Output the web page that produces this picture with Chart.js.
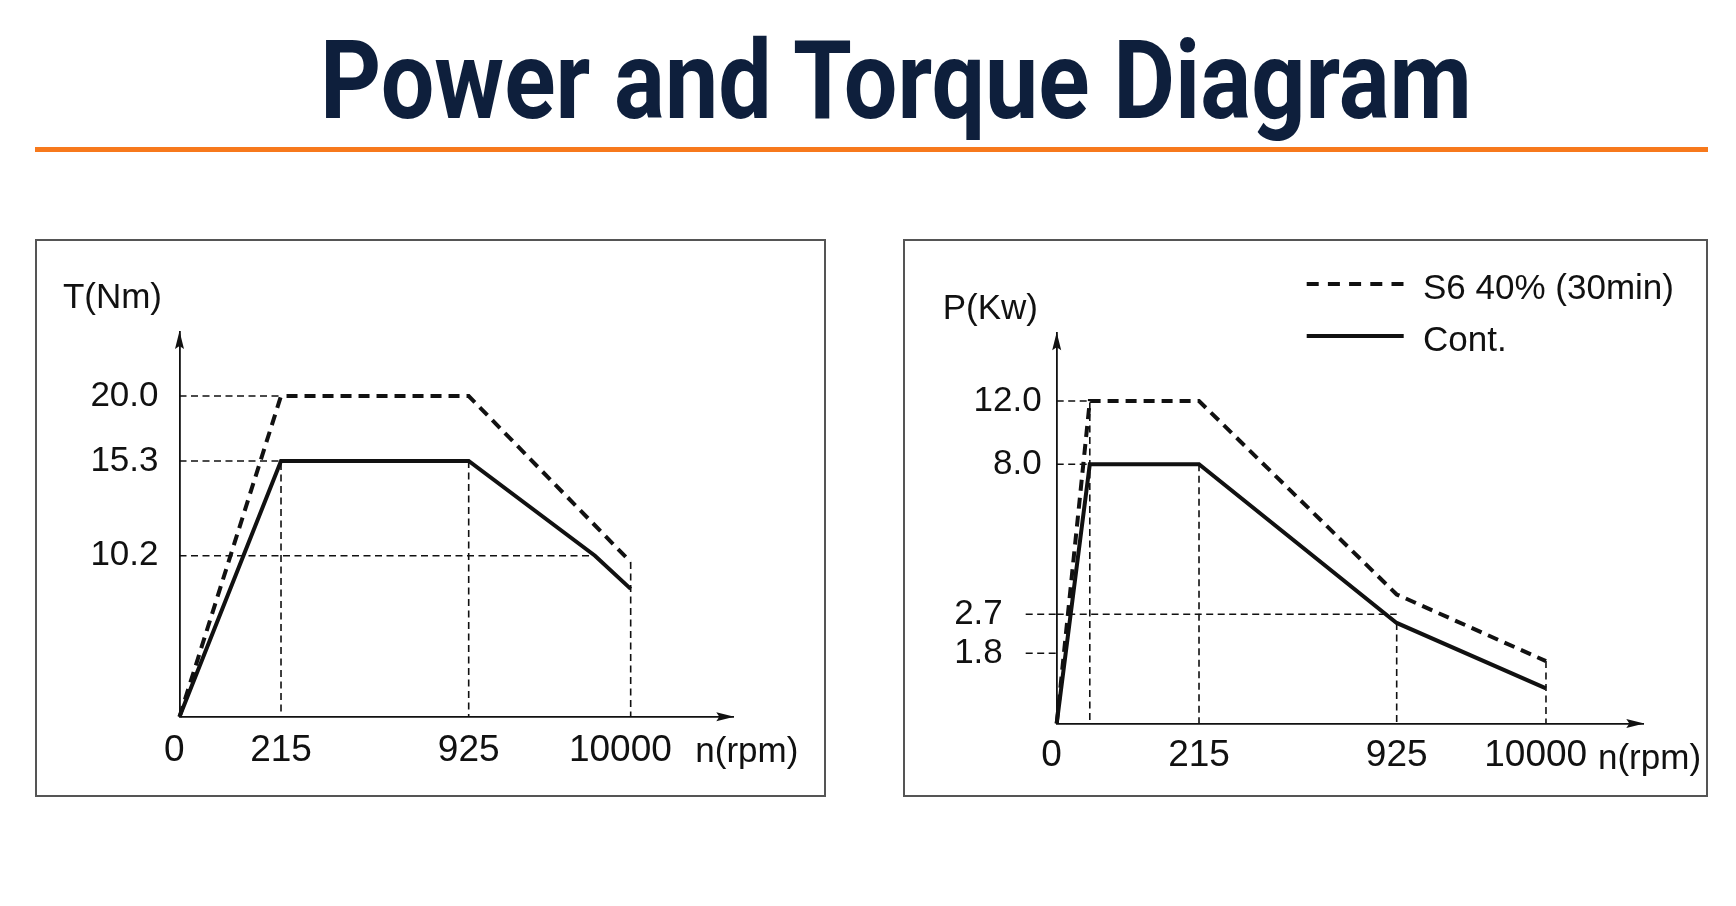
<!DOCTYPE html>
<html>
<head>
<meta charset="utf-8">
<title>Power and Torque Diagram</title>
<script src="https://cdn.jsdelivr.net/npm/chart.js@4.4.1/dist/chart.umd.min.js"></script>
<style>
  body { margin: 0; width: 1736px; height: 906px; background: #fff; position: relative; overflow: hidden; }
  #title { position: absolute; top: 26px; left: 0; white-space: nowrap; font: 700 110px/110px Roboto, "Liberation Sans", sans-serif; color: #0e1f3c; transform-origin: 0 0; }
  #rule { position: absolute; left: 35px; top: 147px; width: 1673px; height: 5px; background: #f7791c; }
  .panel { position: absolute; top: 239px; height: 558px; border: 2px solid #555; box-sizing: border-box; }
  #torquePanel { left: 35px; width: 791px; }
  #powerPanel { left: 903px; width: 805px; }
  .panel div { position: relative; width: 100%; height: 100%; }
</style>
</head>
<body>
<div id="title">Power and Torque Diagram</div>
<div id="rule"></div>
<div class="panel" id="torquePanel"><div><canvas id="torque-graph"></canvas></div></div>
<div class="panel" id="powerPanel"><div><canvas id="power-graph"></canvas></div></div>

<script>
// ---- data ----
var seriesLabels = ['S6 40% (30min)', 'Cont.'];
var speedTicks = [0, 215, 925, 10000];

var torqueTicks = [10.2, 15.3, 20.0];
var torqueS6Rpm = [0, 215, 925, 10000];
var torqueS6 = [0, 20.0, 20.0, 9.8];
var torqueContRpm = [0, 215, 925, 8000, 10000];
var torqueCont = [0, 15.3, 15.3, 10.2, 8.1];
var torqueGuides = [
	[[0, 20.0], [215, 20.0]],
	[[0, 15.3], [215, 15.3], [215, 0]],
	[[0, 10.2], [8000, 10.2]],
	[[925, 15.3], [925, 0]],
	[[10000, 9.8], [10000, 0]]
];

var powerTicks = [1.8, 2.7, 8.0, 12.0];
var powerStubs = [1.8, 2.7];
var powerRpm = [0, 50, 215, 925, 10000];
var powerS6 = [0, 12.0, 12.0, 3.4, 1.6];
var powerCont = [0, 8.0, 8.0, 2.5, 0.9];
var powerGuides = [
	[[0, 12.0], [50, 12.0], [50, 0]],
	[[0, 8.0], [50, 8.0]],
	[[215, 8.0], [215, 0]],
	[[0, 2.7], [925, 2.7]],
	[[925, 2.5], [925, 0]],
	[[10000, 1.6], [10000, 0]]
];

var ink = '#111';
var fontFamily = '"Liberation Sans", Arial, sans-serif';

// title squeezed to the width of the original lettering
var title = document.getElementById('title');
var tw = title.getBoundingClientRect().width;
title.style.transform = 'scaleX(' + (1152 / tw) + ')';
title.style.left = '320px';

// schematic axis: each break value sits at a given fraction of the axis length
class PiecewiseScale extends Chart.LinearScale {
	buildTicks() {
		return this.options.tickValues.map(function(v) { return { value: v }; });
	}
	getPixelForValue(value) {
		if (value === null || isNaN(value)) return NaN;
		var b = this.options.breaks, s = this.options.stops;
		var i = 1;
		while (i < b.length - 1 && value > b[i]) i++;
		var t = (value - b[i - 1]) / (b[i] - b[i - 1]);
		return this.getPixelForDecimal(s[i - 1] + t * (s[i] - s[i - 1]));
	}
	getValueForPixel(pixel) {
		var d = this.getDecimalForPixel(pixel);
		var b = this.options.breaks, s = this.options.stops;
		var i = 1;
		while (i < s.length - 1 && d > s[i]) i++;
		var t = (d - s[i - 1]) / (s[i] - s[i - 1]);
		return b[i - 1] + t * (b[i] - b[i - 1]);
	}
}
PiecewiseScale.id = 'piecewise';
PiecewiseScale.defaults = Chart.LinearScale.defaults;
Chart.register(PiecewiseScale);

// arrows, axis names, little dashed stubs and the legend
var axisDecor = {
	id: 'axisDecor',
	afterDraw: function(chart, args, opts) {
		var ctx = chart.ctx, a = chart.chartArea;
		var x0 = a.left, y0 = a.bottom;
		ctx.save();
		ctx.fillStyle = ink;
		ctx.strokeStyle = ink;

		ctx.beginPath();
		ctx.moveTo(x0, a.top - 1);
		ctx.lineTo(x0 - 4.5, a.top + 17);
		ctx.lineTo(x0, a.top + 14);
		ctx.lineTo(x0 + 4.5, a.top + 17);
		ctx.closePath();
		ctx.fill();

		ctx.beginPath();
		ctx.moveTo(a.right + 1, y0);
		ctx.lineTo(a.right - 17, y0 - 4.5);
		ctx.lineTo(a.right - 14, y0);
		ctx.lineTo(a.right - 17, y0 + 4.5);
		ctx.closePath();
		ctx.fill();

		ctx.textBaseline = 'alphabetic';
		ctx.font = '35px ' + fontFamily;
		ctx.textAlign = 'right';
		ctx.fillText(opts.yTitle, x0 + opts.yTitleDx, a.top + opts.yTitleDy);
		ctx.textAlign = 'left';
		ctx.fillText(opts.xTitle, a.right + opts.xTitleDx, y0 + opts.xTitleDy);

		var ys = chart.scales.y;
		ctx.lineWidth = 1.6;
		ctx.setLineDash([7, 4.5]);
		(opts.stubs || []).forEach(function(v) {
			var py = ys.getPixelForValue(v);
			ctx.beginPath();
			ctx.moveTo(x0 - 31, py);
			ctx.lineTo(x0, py);
			ctx.stroke();
		});

		if (opts.legend) {
			var lg = opts.legend;
			var row = 0;
			chart.data.datasets.forEach(function(ds) {
				if (!ds.label) return;
				var y = lg.y + row * lg.rowGap;
				ctx.lineWidth = 4;
				ctx.setLineDash(ds.borderDash && ds.borderDash.length ? lg.dash : []);
				ctx.beginPath();
				ctx.moveTo(lg.x, y);
				ctx.lineTo(lg.x + lg.sample, y);
				ctx.stroke();
				ctx.font = '35px ' + fontFamily;
				ctx.textAlign = 'left';
				ctx.fillText(ds.label, lg.textX, y + lg.baseDy);
				row++;
			});
		}
		ctx.restore();
	}
};

function points(xs, ys) {
	return xs.map(function(x, i) { return { x: x, y: ys[i] }; });
}

function mainSet(label, xs, ys, dashed) {
	return {
		label: label,
		data: points(xs, ys),
		borderColor: ink,
		borderWidth: 4,
		borderDash: dashed ? [11, 7] : [],
		borderJoinStyle: 'miter',
		pointRadius: 0,
		tension: 0,
		clip: false,
		order: 0
	};
}

function guideSets(guides) {
	return guides.map(function(g) {
		return {
			label: '',
			data: g.map(function(p) { return { x: p[0], y: p[1] }; }),
			borderColor: ink,
			borderWidth: 1.6,
			borderDash: [7, 4.5],
			pointRadius: 0,
			tension: 0,
			clip: false,
			order: 2
		};
	});
}

// the original labels for 0 and 10000 sit a little left of their tick
function speedLabel(v) {
	if (v === 0) return '0 ';
	if (v === 10000) return '10000  ';
	return String(v);
}

function makeOptions(cfg) {
	return {
		responsive: true,
		maintainAspectRatio: false,
		animation: false,
		events: [],
		layout: { padding: { top: cfg.padTop, right: cfg.padRight, left: 0, bottom: 0 } },
		plugins: {
			legend: { display: false },
			tooltip: { enabled: false },
			axisDecor: cfg.decor
		},
		scales: {
			x: {
				type: 'piecewise',
				breaks: speedTicks,
				stops: cfg.xStops,
				tickValues: speedTicks,
				grid: { display: false, drawTicks: false },
				border: { display: true, color: ink, width: 1.8 },
				ticks: {
					color: ink,
					font: { family: fontFamily, size: 37 },
					padding: cfg.xPad,
					autoSkip: false,
					maxRotation: 0,
					callback: speedLabel
				},
				afterFit: function(s) { s.height = cfg.xHeight; }
			},
			y: {
				type: 'piecewise',
				breaks: [0].concat(cfg.yTicks),
				stops: cfg.yStops,
				tickValues: cfg.yTicks,
				grid: { display: false, drawTicks: false },
				border: { display: true, color: ink, width: 1.8 },
				ticks: {
					color: ink,
					font: { family: fontFamily, size: 35 },
					padding: cfg.yPad,
					autoSkip: false,
					callback: function(v) {
						return v.toFixed(1) + ((cfg.stubs || []).indexOf(v) >= 0 ? '    ' : '');
					}
				},
				afterFit: function(s) { s.width = cfg.yWidth; }
			}
		}
	};
}

new Chart(document.getElementById('torque-graph').getContext('2d'), {
	type: 'line',
	data: {
		datasets: [
			mainSet(seriesLabels[0], torqueS6Rpm, torqueS6, true),
			mainSet(seriesLabels[1], torqueContRpm, torqueCont, false)
		].concat(guideSets(torqueGuides))
	},
	options: makeOptions({
		padTop: 91, padRight: 90.7, yWidth: 142.5, xHeight: 78.2,
		xStops: [0, 0.1833, 0.5222, 0.8147],
		yTicks: torqueTicks,
		yStops: [0, 0.4187, 0.6648, 0.8337],
		xPad: 11.5, yPad: 21,
		decor: { yTitle: 'T(Nm)', yTitleDx: -17.5, yTitleDy: -24, xTitle: 'n(rpm)', xTitleDx: -38, xTitleDy: 45 }
	}),
	plugins: [axisDecor]
});

new Chart(document.getElementById('power-graph').getContext('2d'), {
	type: 'line',
	data: {
		datasets: [
			mainSet(seriesLabels[0], powerRpm, powerS6, true),
			mainSet(seriesLabels[1], powerRpm, powerCont, false)
		].concat(guideSets(powerGuides))
	},
	options: makeOptions({
		padTop: 92.3, padRight: 62.7, yWidth: 151.7, xHeight: 71.5,
		xStops: [0, 0.2426, 0.5796, 0.8341],
		yTicks: powerTicks,
		yStops: [0, 0.1799, 0.2799, 0.6643, 0.8265],
		stubs: powerStubs,
		xPad: 10.5, yPad: 15,
		decor: {
			yTitle: 'P(Kw)', yTitleDx: -18.7, yTitleDy: -14.3, xTitle: 'n(rpm)', xTitleDx: -45.3, xTitleDy: 45,
			stubs: powerStubs,
			legend: { x: 401.7, y: 43, rowGap: 52, sample: 97, textX: 518, baseDy: 15, dash: [12, 9.2] }
		}
	}),
	plugins: [axisDecor]
});
</script>
</body>
</html>
